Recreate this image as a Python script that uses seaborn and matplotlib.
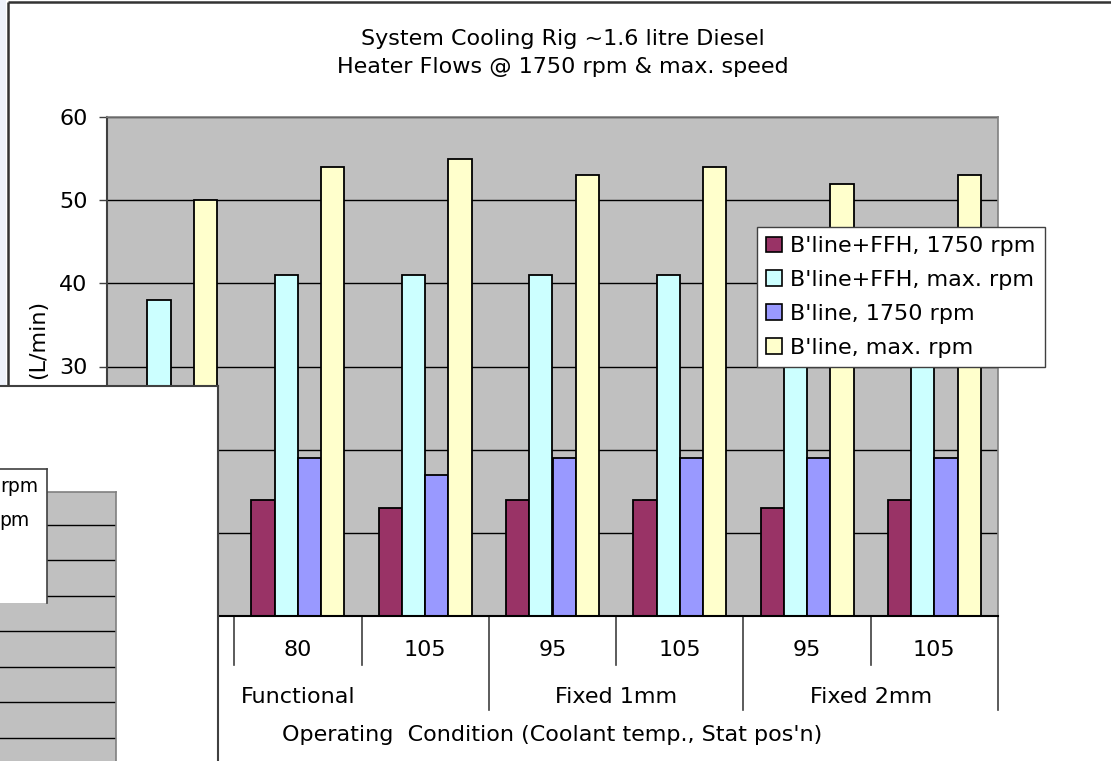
import matplotlib
matplotlib.use("Agg")
import matplotlib.pyplot as plt
import pandas as pd
import seaborn as sns
from matplotlib.lines import Line2D
from matplotlib.patches import Rectangle

# ---- data ----
title = "System Cooling Rig ~1.6 litre Diesel\nHeater Flows @ 1750 rpm & max. speed"
temps = ["", "80", "105", "95", "105", "95", "105"]  # first label is hidden behind the overlapping window
conditions = ["Functional", "Fixed 1mm", "Fixed 2mm"]
condition_groups = [3, 2, 2]
series = ["B'line+FFH, 1750 rpm", "B'line+FFH, max. rpm", "B'line, 1750 rpm", "B'line, max. rpm"]
ffh_1750 = [14, 14, 13, 14, 14, 13, 14]
ffh_max = [38, 41, 41, 41, 41, 41, 41]
bline_1750 = [19, 19, 17, 19, 19, 19, 19]
bline_max = [50, 54, 55, 53, 54, 52, 53]
colors = ["#993366", "#CCFFFF", "#9999FF", "#FFFFCC"]
xlabel = "Operating  Condition (Coolant temp., Stat pos'n)"
ylabel = "(L/min)"
# what is left visible of the other window's legend
other_legend_tails = ["rpm", "pm"]

W, H = 1111, 761


def main():
    rows = []
    for s, vals in zip(series, [ffh_1750, ffh_max, bline_1750, bline_max]):
        for i, v in enumerate(vals):
            rows.append({"group": i, "series": s, "flow": v})
    df = pd.DataFrame(rows)

    plt.rcParams["font.family"] = ["DejaVu Sans"]
    fig = plt.figure(figsize=(W / 100, H / 100), dpi=100)
    fig.patch.set_facecolor("white")

    ax = fig.add_axes([107 / W, 1 - 616 / H, (998 - 107) / W, (616 - 117) / H])
    ax.set_facecolor("#C0C0C0")
    sns.barplot(data=df, x="group", y="flow", hue="series", hue_order=series,
                palette=colors, saturation=1, width=0.73, gap=0,
                edgecolor="black", linewidth=1.3, legend=False, ax=ax)
    ax.set_xlim(-0.5, 6.5)
    ax.set_ylim(0, 60)
    ax.set_yticks(range(0, 61, 10))
    ax.yaxis.grid(True, color="black", linewidth=1.0)
    ax.set_axisbelow(True)
    ax.tick_params(axis="y", length=6, width=1, pad=8, labelsize=16, color="#404040")
    ax.set_xticks([])
    ax.set_xlabel("")
    ax.set_ylabel("")
    ax.spines["left"].set_color("#404040")
    ax.spines["left"].set_linewidth(1.5)
    ax.spines["bottom"].set_color("black")
    ax.spines["bottom"].set_linewidth(1.5)
    for side in ["top", "right"]:
        ax.spines[side].set_color("#808080")
        ax.spines[side].set_linewidth(1.2)

    # hierarchical category axis
    trans = ax.get_xaxis_transform()
    ends = []
    n = 0
    for k in condition_groups:
        n += k
        ends.append(n - 0.5)
    for b in [i - 0.5 for i in range(len(temps) + 1)]:
        depth = 0.188 if (b in ends or b == -0.5) else 0.098
        ax.plot([b, b], [0, -depth], transform=trans, clip_on=False,
                color="#404040", linewidth=1.2)
    for i, t in enumerate(temps):
        ax.text(i, -0.068, t, transform=trans, ha="center", va="center", fontsize=16)
    start = 0
    for c, k in zip(conditions, condition_groups):
        ax.text(start + (k - 1) / 2, -0.162, c, transform=trans,
                ha="center", va="center", fontsize=16)
        start += k
    ax.text(0.5, -0.238, xlabel, transform=ax.transAxes, ha="center", va="center", fontsize=16)

    fig.text(563 / W, 1 - 53 / H, title, ha="center", va="center", fontsize=16, linespacing=1.48)
    fig.text(38 / W, 1 - 339 / H, ylabel, rotation=90, ha="center", va="center", fontsize=16)

    handles = [Rectangle((0, 0), 1, 1, facecolor=c, edgecolor="black", linewidth=1.2) for c in colors]
    leg = ax.legend(handles, series, loc="upper left", bbox_to_anchor=(757 / W, 1 - 227 / H),
                    bbox_transform=fig.transFigure, fontsize=16, frameon=True, fancybox=False,
                    framealpha=1, borderpad=0.42, labelspacing=0.62, handlelength=0.72,
                    handleheight=0.72, handletextpad=0.35, borderaxespad=0)
    leg.get_frame().set_edgecolor("#404040")
    leg.get_frame().set_linewidth(1.0)

    # window frame of the screenshot
    fig.patches.append(Rectangle((0, 0), 6 / W, 1, transform=fig.transFigure,
                                 facecolor="#EEF2FB", edgecolor="none"))
    fig.add_artist(Line2D([7.5 / W, 7.5 / W], [0, 1 - 2 / H], transform=fig.transFigure,
                          color="#333333", linewidth=1.8, solid_capstyle="butt"))
    fig.add_artist(Line2D([7.5 / W, 1], [1 - 2 / H, 1 - 2 / H], transform=fig.transFigure,
                          color="#333333", linewidth=1.8, solid_capstyle="butt"))

    # another chart window overlapping the lower left corner
    ax_w = fig.add_axes([0, 0, 218 / W, (H - 386) / H], zorder=10)
    ax_w.set_facecolor("white")
    ax_w.set_xticks([])
    ax_w.set_yticks([])
    for side in ["left", "bottom"]:
        ax_w.spines[side].set_visible(False)
    for side in ["top", "right"]:
        ax_w.spines[side].set_color("#404040")
        ax_w.spines[side].set_linewidth(1.5)

    ax_f = fig.add_axes([0, 0, 116 / W, (H - 492) / H], zorder=11)
    ax_f.set_facecolor("#C0C0C0")
    ax_f.set_ylim(3.5, 79.3)
    ax_f.set_yticks(range(10, 71, 10))
    ax_f.yaxis.grid(True, color="black", linewidth=1.0)
    ax_f.tick_params(length=0, labelleft=False, labelbottom=False)
    ax_f.set_xticks([])
    for side in ["left", "bottom"]:
        ax_f.spines[side].set_visible(False)
    for side in ["top", "right"]:
        ax_f.spines[side].set_color("#808080")
        ax_f.spines[side].set_linewidth(1.2)

    ax_l = fig.add_axes([0, 1 - 603 / H, 47 / W, (603 - 469) / H], zorder=12)
    ax_l.set_facecolor("white")
    ax_l.set_xlim(0, 47)
    ax_l.set_ylim(603, 469)
    ax_l.set_xticks([])
    ax_l.set_yticks([])
    for side in ["left", "bottom"]:
        ax_l.spines[side].set_visible(False)
    for side in ["top", "right"]:
        ax_l.spines[side].set_color("#404040")
        ax_l.spines[side].set_linewidth(1.2)
    ax_l.text(38, 487, other_legend_tails[0], ha="right", va="center", fontsize=13.5)
    ax_l.text(30, 520, other_legend_tails[1], ha="right", va="center", fontsize=13.5)

    fig.savefig("out.png", dpi=100)


if __name__ == "__main__":
    main()
